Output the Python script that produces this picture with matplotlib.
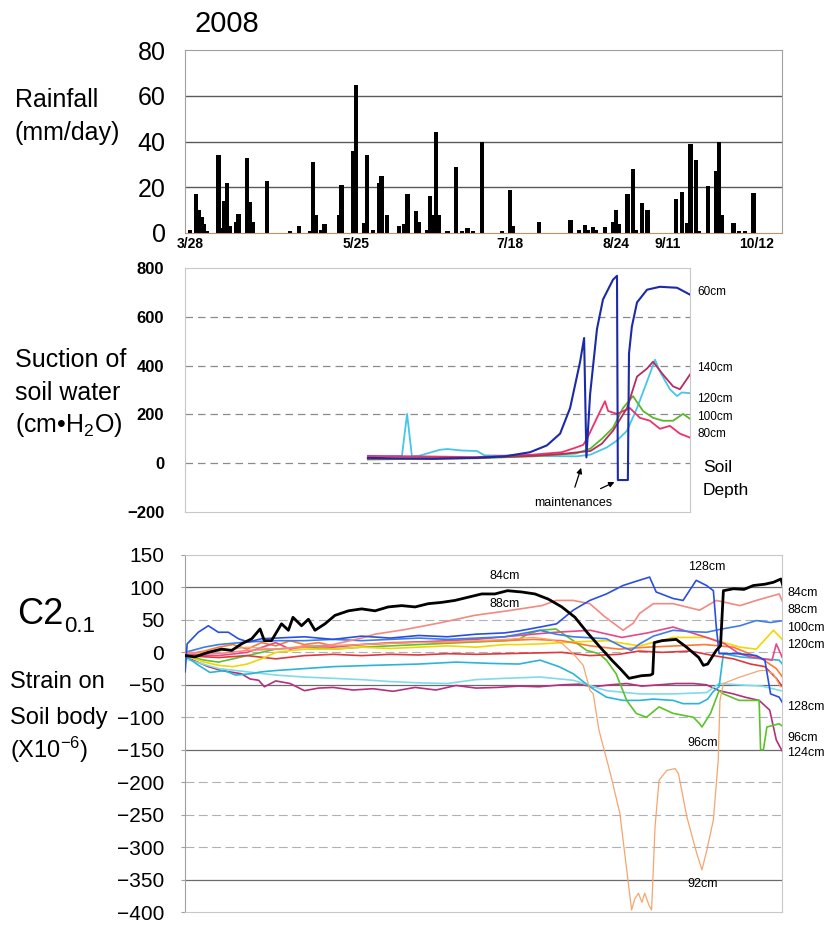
import matplotlib
matplotlib.use("Agg")
import matplotlib.pyplot as plt

plt.rcParams['font.family'] = ['Liberation Sans', 'DejaVu Sans']
plt.rcParams['mathtext.fontset'] = 'custom'
plt.rcParams['mathtext.rm'] = 'Liberation Sans'
plt.rcParams['mathtext.it'] = 'Liberation Sans:italic'

# days counted from 3/28/2008
date_ticks = [0, 58, 112, 149, 167, 198]
date_labels = ['3/28', '5/25', '7/18', '8/24', '9/11', '10/12']

# ---- rainfall (mm/day) ----
rain_day = [0, 2, 3, 4, 5, 6, 10, 11, 12, 13, 14, 16, 17, 20, 21, 22, 27, 35, 38, 42,
            43, 44, 46, 47, 52, 53, 57, 58, 61, 62, 64, 66, 67, 69, 73, 75, 76, 79, 80, 83,
            84, 85, 86, 87, 90, 93, 95, 97, 99, 102, 109, 112, 113, 122, 133, 136, 138, 139,
            141, 142, 145, 148, 149, 150, 153, 155, 156, 158, 160, 170, 172, 174, 175, 177,
            178, 181, 184, 185, 186, 190, 192, 194, 197]
rain_mm = [1.5, 17, 10, 7, 4, 1, 34, 2, 14, 22, 3, 5, 8.5, 33, 13.5, 5, 22.6, 1, 3, 1,
           31, 8, 1.5, 4, 8, 21, 36, 64.7, 4.5, 34, 1.5, 22, 25, 8, 3, 4, 17, 9.5, 5, 1.5,
           16, 8, 44, 8, 1, 29, 1, 2, 1, 40, 1, 18.7, 3, 5, 5.6, 1.5, 3.4, 1.5,
           2.6, 1.5, 2.6, 4.7, 10, 4, 17, 28, 1.5, 13, 10, 14.7, 18, 4.5, 39, 32,
           1, 20.5, 27, 40, 8, 4.5, 1, 1, 17.4]

# ---- suction of soil water (cm H2O) ----
suc60_day = [62.2, 70, 85, 100, 110, 118.9, 124.8, 129.4, 132.9, 136.4, 137.8, 138.6, 139.9,
             142.3, 144.4, 147.9, 149.3, 149.6, 153.1, 153.5, 154.5, 156.3, 159.8, 164.3,
             170.3, 174.8]
suc60_val = [22, 20, 18, 22, 28, 45, 73, 121, 226, 416, 513, 24, 283,
             550, 671, 752, 768, -69, -69, 450, 560, 659, 711, 723,
             719, 691]
suc120_day = [62.2, 70, 74.1, 75.9, 77.6, 80, 87.4, 90, 95, 100.3, 103, 120, 135, 140,
              145.8, 149.3, 152.8, 156.3, 159.8, 162.6, 164.3, 167.8, 170.3, 172, 174.8]
suc120_val = [25, 28, 30, 202, 28, 30, 55, 58, 52, 50, 32, 30, 28, 35,
              65, 93, 133, 226, 335, 424, 376, 303, 275, 290, 287]
suc140_day = [62.2, 80, 100, 120, 130, 140, 144, 147.9, 152.8, 156.3, 159.8, 161.9, 165.4,
              168.9, 171.3, 174.8]
suc140_val = [18, 20, 22, 30, 38, 50, 80, 133, 226, 355, 388, 416, 363, 315, 303, 363]
suc80_day = [62.2, 80, 100, 120, 130, 133.9, 137.5, 139, 142.3, 145.1, 146.2, 149.3, 153.8,
             157.3, 160.8, 164.3, 167.8, 171.3, 174.8]
suc80_val = [30, 28, 25, 35, 45, 60, 75, 105, 186, 254, 214, 202, 226, 186, 174, 141, 153, 121, 105]
suc100_day = [62.2, 80, 100, 120, 135, 140, 144, 147.9, 151.4, 154.9, 158.4, 161.9, 165.4,
              168.9, 172.4, 174.8]
suc100_val = [15, 18, 20, 28, 40, 60, 100, 145, 226, 275, 214, 186, 174, 174, 202, 182]

# ---- strain on soil body (x10^-6) ----
s84_day = [-1.7, 1.7, 6.4, 11, 14.6, 18, 21.6, 24.5, 26, 28.5, 32, 34.4, 36, 39, 41.4, 43.7,
           47.2, 50.7, 55.4, 60, 64.7, 69.3, 74, 78.7, 83.3, 88, 92.6, 97.3, 102, 106.6, 111,
           116, 120.6, 125.3, 130, 134.6, 139, 143.4, 147.7, 150.6, 153.5, 157.8, 161, 161.8,
           162.3, 165, 170, 173.6, 177.9, 179.5, 181, 184, 185.5, 186.5, 190, 193.7, 197, 201,
           204, 206.6, 207.5]
s84_val = [-5, -7, 0, 5, 3, 13, 21, 36, 18, 18, 44, 34, 54, 41, 51, 34,
           44, 57, 64, 67, 64, 70, 72, 70, 75, 77, 80, 85, 90, 90, 95,
           93, 90, 82, 70, 54, 30, 8, -13, -26, -40, -36, -35, -33,
           15, 18, 20, 8, -8, -20, -18, 3, 10, 95, 98, 97, 103, 105,
           108, 113, 100]
s88_day = [-1.7, 10, 20, 30, 40, 50, 60, 64.7, 75, 88, 99.5, 111, 123, 128, 134, 139.8,
           145, 151.4, 155, 157.2, 162, 168.9, 178.2, 184, 192.3, 198, 206, 207.5]
s88_val = [0, -2, 3, 5, 8, 12, 22, 28, 35, 46, 57, 64, 72, 80, 80, 75,
           55, 34, 45, 60, 75, 75, 65, 80, 72, 80, 90, 75]
s128_day = [-1.7, -1, 2.9, 6.4, 9.9, 13.4, 16.9, 20.4, 25, 30, 40, 50, 60, 70, 80, 90, 100,
            110, 115, 122.4, 128.2, 134, 139.8, 145.6, 151.4, 154.9, 160.7, 163, 168.9,
            172.4, 177, 180.6, 183, 184, 185, 192, 198, 201, 203, 206, 207.5]
s128_val = [-30, 13, 31, 41, 31, 31, 21, 16, 21, 22, 24, 20, 25, 22, 26, 24, 28,
            30, 33, 39, 44, 65, 80, 90, 103, 108, 116, 93, 83,
            80, 111, 103, 95, 40, -2, -2, -5, -12, -64, -69, -80]
s100_day = [-1.7, 5, 10, 20, 30, 40, 50, 60, 70, 80, 90, 100, 110, 115, 122.4, 128, 134,
            145.6, 151.4, 154.3, 157.2, 162, 168.9, 175, 180.6, 186, 192.3, 198, 203, 207.5]
s100_val = [0, 8, 12, 16, 18, 18, 20, 18, 20, 22, 20, 22, 24, 28, 34, 28, 24,
            21, 8, 3, 13, 25, 34, 32, 31, 36, 41, 49, 46, 49]
s120_day = [-1.7, 5, 10, 15, 20, 25, 30, 40, 50, 60, 70, 80, 90, 100, 110, 115, 122.4,
            134, 145.6, 157.2, 168.9, 180.6, 192.3, 198, 204, 207.5]
s120_val = [-5, -15, -20, -22, -18, -10, 0, 5, 5, 8, 6, 8, 10, 8, 12, 12, 13,
            16, 18, 10, 23, 23, 8, 5, 34, 18]
s92_day = [-1.7, 10, 20, 30, 40, 50, 60, 70, 80, 90, 100, 110, 120, 126, 130, 134, 137.5,
           139.8, 141, 143, 147, 150.3, 152.7, 154.4, 155.5, 156.8, 158, 159, 160.5, 161.4,
           162.6, 164, 166.7, 169.6, 170.8, 173.7, 177.2, 179, 180.7, 183, 184.7, 185.3,
           186.5, 192.3, 199.3, 201.5, 204, 206.4]
s92_val = [-2, 2, 8, 5, 10, 10, 12, 14, 15, 16, 18, 20, 23, 20, 14, -2, -20,
           -58, -64, -120, -187, -248, -335, -397, -380, -371, -385, -371, -390, -397,
           -269, -197, -182, -179, -187, -253, -310, -335, -305, -258, -166, -74,
           -48, -38, -28, -28, -33, -53]
sorange_day = [-1.7, 5, 10, 15, 20, 25, 30, 35, 40, 45, 50, 60, 70, 80, 90, 100, 110, 120,
               130, 140, 150, 160, 170, 180, 190, 200, 205, 207.5]
sorange_val = [-3, 2, 8, 12, 5, 15, 10, 18, 12, 15, 10, 12, 15, 16, 15, 17, 18, 20,
               18, 10, 5, 8, 10, 12, 8, -10, -25, -40]
sred_day = [-1.7, 10, 20, 30, 40, 50, 60, 70, 80, 90, 100, 110, 120, 130, 139.8, 150, 157,
            165, 175, 183, 190, 196, 201, 205, 207.5]
sred_val = [-5, -8, -5, -10, -5, -3, -5, -3, -4, -2, -3, -2, -1, 0, -5, -3, 2,
            0, 2, -5, -10, -18, -22, -40, -55]
spink_day = [-1.7, 10, 20, 30, 35, 40, 50, 60, 70, 80, 90, 100, 110, 120, 128, 140, 151,
             160, 168.9, 180.6, 187, 192, 196, 203.5, 205, 207.5]
spink_val = [-3, -5, 0, 15, 5, 10, 8, 12, 14, 16, 18, 20, 24, 28, 31, 34, 23,
             30, 39, 23, 13, -2, -7, -12, 13, -12]
s96_day = [-1.7, 5, 10, 15, 20, 25, 30, 40, 50, 60, 70, 80, 90, 100, 110, 115, 118, 122.4,
           128, 134, 138.7, 143, 145.6, 149, 152.7, 156, 159.6, 164, 168.9, 176, 178.2, 179,
           182, 185, 186.5, 192, 199, 199.5, 200.5, 201.7, 206, 207.5]
s96_val = [-5, -12, -15, -10, -5, 0, 5, 8, 5, 8, 10, 12, 14, 16, 18, 20, 28, 34,
           36, 18, 3, -2, -12, -33, -74, -94, -100, -84, -94, -100, -110, -115,
           -94, -59, -64, -74, -74, -150, -150, -115, -110, -115]
scyan_day = [-1.7, 3, 7, 12, 16, 21, 25, 30, 40, 50, 64, 80, 93, 105, 115, 122.4, 129,
             134, 139.8, 145.6, 151.4, 157.2, 162, 168.9, 172.4, 178, 181, 183, 185, 186.5,
             192.3, 200, 206, 207.5]
scyan_val = [-5, -20, -31, -28, -35, -33, -30, -28, -25, -22, -20, -18, -15, -17, -18, -12, -22,
             -33, -53, -69, -74, -74, -72, -74, -79, -79, -72, -60, -53, -2,
             -7, -10, -12, -20]
slcyan_day = [-1.7, 10, 20, 30, 40, 50, 60, 70, 80, 90, 100, 110, 122.4, 134, 145.6, 157.2,
              168.9, 180.6, 185, 192, 200, 207.5]
slcyan_val = [-10, -25, -30, -35, -38, -40, -42, -45, -47, -48, -42, -40, -38, -43, -59, -64,
              -64, -62, -48, -50, -52, -60]
s124_day = [-1.7, 6.4, 11, 18, 21, 24, 26, 30, 35, 40, 45, 50, 57, 64, 71, 78.7, 86, 93, 100,
            107.5, 115, 122, 130, 136, 141, 147, 152.7, 158, 164, 170, 176, 180.6, 185, 190,
            194, 199, 202.7, 205, 206.8, 207.5]
s124_val = [-7, -22, -28, -33, -41, -43, -53, -44, -48, -59, -55, -54, -58, -56, -60, -54, -58,
            -51, -55, -54, -52, -53, -50, -49, -53, -50, -48, -52, -50, -48, -48, -50, -59,
            -64, -69, -74, -89, -135, -150, -155]

W, H = 835, 933


def fig_box(x0, y0, x1, y1):
    # pixel box (top-left origin) -> figure fraction rect
    return [x0 / W, 1 - y1 / H, (x1 - x0) / W, (y1 - y0) / H]


def px(x, y):
    return x / W, 1 - y / H


def day_of(xpix):
    return (xpix - 190) / 2.86


fig = plt.figure(figsize=(W / 100, H / 100), dpi=100)
grid_col = '#8a8a90'
frame_col = '#a0a0a0'

# ---------------- rainfall ----------------
ax1 = fig.add_axes(fig_box(185, 50, 782, 233))
ax1.bar(rain_day, rain_mm, width=1.5, color='black', zorder=3)
ax1.set_xlim(day_of(185), day_of(782))
ax1.set_ylim(0, 80)
ax1.set_yticks([0, 20, 40, 60, 80])
for v in [20, 40, 60]:
    ax1.axhline(v, color='#5a5a5a', lw=1.0, zorder=1)
ax1.set_xticks(date_ticks)
ax1.set_xticklabels(date_labels, fontsize=10, fontweight='bold')
ax1.tick_params(axis='x', length=0, pad=3)
ax1.tick_params(axis='y', length=0, pad=14, labelsize=18)
for sp in ax1.spines.values():
    sp.set_color(frame_col)
    sp.set_linewidth(0.8)
ax1.spines['bottom'].set_color('#c89060')

# ---------------- suction ----------------
ax2 = fig.add_axes(fig_box(185, 268, 690, 512))
ax2.plot(suc120_day, suc120_val, color='#45c6ea', lw=1.3, zorder=3)
ax2.plot(suc100_day, suc100_val, color='#58b82a', lw=1.3, zorder=3)
ax2.plot(suc80_day, suc80_val, color='#f0306a', lw=1.3, zorder=4)
ax2.plot(suc140_day, suc140_val, color='#b82a62', lw=1.3, zorder=4)
ax2.plot(suc60_day, suc60_val, color='#1c2aa6', lw=1.5, zorder=5)
ax2.set_xlim(day_of(185), day_of(690))
ax2.set_ylim(-200, 800)
ax2.set_yticks(range(-200, 801, 200))
ax2.set_xticks([])
for v in [0, 200, 400, 600]:
    ax2.axhline(v, color=grid_col, lw=0.9, ls=(0, (6, 4)), zorder=1)
ax2.tick_params(axis='y', length=0, pad=15, labelsize=12)
for lab in ax2.get_yticklabels():
    lab.set_fontweight('bold')
for sp in ax2.spines.values():
    sp.set_color('#c8c8c8')
    sp.set_linewidth(0.8)

mid_labels = [('60cm', 292), ('140cm', 368), ('120cm', 399), ('100cm', 417), ('80cm', 434)]
for txt, ypix in mid_labels:
    fig.text(*px(697, ypix), txt, fontsize=8.5, va='center', ha='left')
fig.text(*px(703, 468), 'Soil', fontsize=12.5, va='center', ha='left')
fig.text(*px(703, 491), 'Depth', fontsize=12.5, va='center', ha='left')

ax2.annotate('', xy=(day_of(582), (463 - 465) * 4.04), xytext=(day_of(574), (463 - 490) * 4.04),
             arrowprops=dict(arrowstyle='-|>', color='black', lw=0.9, mutation_scale=8))
ax2.annotate('', xy=(day_of(617), (463 - 481) * 4.04), xytext=(day_of(598), (463 - 490) * 4.04),
             arrowprops=dict(arrowstyle='-|>', color='black', lw=0.9, mutation_scale=8))
fig.text(*px(573, 503), 'maintenances', fontsize=9, ha='center', va='center')

# ---------------- strain ----------------
ax3 = fig.add_axes(fig_box(185, 555, 782, 912))
strain = [
    (s124_day, s124_val, '#b4307e', 1.2),
    (slcyan_day, slcyan_val, '#7fdbe8', 1.2),
    (scyan_day, scyan_val, '#2cb4d6', 1.2),
    (s96_day, s96_val, '#5cc22c', 1.2),
    (sred_day, sred_val, '#e0383a', 1.2),
    (s120_day, s120_val, '#f2d600', 1.2),
    (sorange_day, sorange_val, '#ff7a2e', 1.2),
    (spink_day, spink_val, '#e6488a', 1.2),
    (s100_day, s100_val, '#3c7ee6', 1.2),
    (s92_day, s92_val, '#f5a56e', 0.9),
    (s88_day, s88_val, '#f28a82', 1.2),
    (s128_day, s128_val, '#2a4fe0', 1.2),
    (s84_day, s84_val, 'black', 2.0),
]
for d, v, c, lw in strain:
    ax3.plot(d, v, color=c, lw=lw, zorder=3)
ax3.set_xlim(day_of(185), day_of(782))
ax3.set_ylim(-400, 150)
ax3.set_yticks(range(-400, 151, 50))
ax3.set_xticks([])
dark_lines = [100, -50, -150, -350]
for v in range(-350, 150, 50):
    if v in dark_lines:
        ax3.axhline(v, color='#6a6a70', lw=0.9, zorder=1)
    else:
        ax3.axhline(v, color='#b0b0b8', lw=0.8, ls=(0, (8, 4)), zorder=1)
ax3.tick_params(axis='y', length=3, color=frame_col, pad=12, labelsize=15)
for sp in ax3.spines.values():
    sp.set_color('#c8c8c8')
    sp.set_linewidth(0.8)
ax3.spines['left'].set_color(frame_col)

right_labels = [('84cm', 593), ('88cm', 610), ('100cm', 628), ('120cm', 645),
                ('128cm', 707), ('96cm', 738), ('124cm', 753)]
for txt, ypix in right_labels:
    fig.text(*px(787, ypix), txt, fontsize=9, va='center', ha='left')
inner_labels = [('84cm', 505, 576), ('88cm', 505, 604), ('128cm', 707, 567),
                ('96cm', 703, 743), ('92cm', 703, 884)]
for txt, xpix, ypix in inner_labels:
    fig.text(*px(xpix, ypix), txt, fontsize=9, va='center', ha='center')

# ---------------- left side titles ----------------
fig.text(*px(227, 24), '2008', fontsize=21, ha='center', va='center')
fig.text(*px(15, 100), 'Rainfall', fontsize=18, va='center')
fig.text(*px(15, 133), '(mm/day)', fontsize=18, va='center')
fig.text(*px(15, 360), 'Suction of', fontsize=18, va='center')
fig.text(*px(15, 393), 'soil water', fontsize=18, va='center')
fig.text(*px(15, 425), '(cm\u2022H$_2$O)', fontsize=18, va='center')
fig.text(*px(17, 615), 'C2', fontsize=26, va='center')
fig.text(*px(64, 626), '0.1', fontsize=16, va='center')
fig.text(*px(10, 682), 'Strain on', fontsize=17, va='center')
fig.text(*px(10, 718), 'Soil body', fontsize=17, va='center')
fig.text(*px(10, 750), '(X10$^{-6}$)', fontsize=17, va='center')

fig.savefig('out.png', dpi=100)
